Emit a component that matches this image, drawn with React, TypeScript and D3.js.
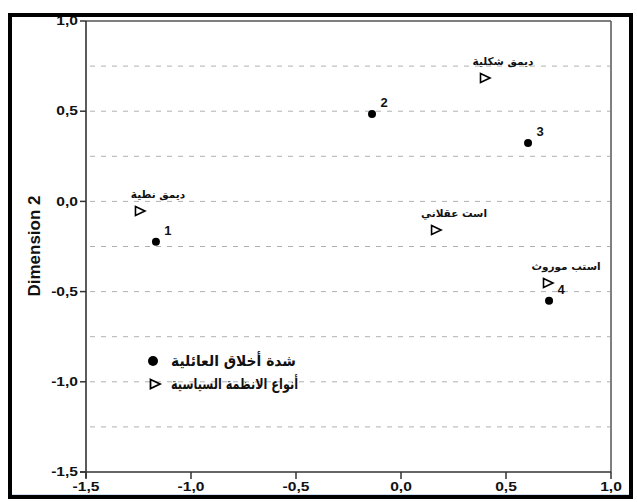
import React from 'react';
import * as d3 from 'd3';

const xTicks = [-1.5, -1.0, -0.5, 0.0, 0.5, 1.0];
const yTicks = [-1.5, -1.0, -0.5, 0.0, 0.5, 1.0];
const gridValues = [0.75, 0.5, 0.25, 0.0, -0.25, -0.5, -0.75, -1.0, -1.25];

const circleLabels = ['1', '2', '3', '4'];
const circleX = [-1.167, -0.138, 0.605, 0.705];
const circleY = [-0.224, 0.485, 0.324, -0.551];

const triangleLabels = ['ديمق نطية', 'ديمق شكلية', 'است عقلاني', 'استب موروث'];
const triangleX = [-1.243, 0.4, 0.167, 0.7];
const triangleY = [-0.053, 0.684, -0.158, -0.452];

const legendLabels = ['شدة أخلاق العائلية', 'أنواع الانظمة السياسية'];
const yTitle = 'Dimension 2';

const fmt = (v: number) => d3.format('.1f')(v).replace('.', ',').replace('−', '-');

export default function App() {
  const x = d3.scaleLinear().domain([-1.5, 1.0]).range([86, 611]);
  const y = d3.scaleLinear().domain([-1.5, 1.0]).range([472, 21]);
  const tri = 'M-4.5,-4.5 L5,0 L-4.5,4.5 Z';
  const axisFont = 'Liberation Sans, Arial, sans-serif';
  const arFont = 'DejaVu Sans, sans-serif';
  return (
    <svg width={637} height={502} style={{ position: 'absolute', left: 0, top: 0, background: '#fff' }}>
      <rect x={0} y={0} width={637} height={502} fill="#fff" />
      {gridValues.map((g, i) => (
        <line key={'g' + i} x1={x(-1.5) + 4} x2={x(1.0) - 1} y1={y(g)} y2={y(g)}
          stroke="#b0b0b0" strokeWidth={1} strokeDasharray="5,6" />
      ))}
      <line x1={x(-1.5)} x2={x(1.0)} y1={y(1.0)} y2={y(1.0)} stroke="#555" strokeWidth={1.5} />
      <line x1={x(1.0)} x2={x(1.0)} y1={y(1.0)} y2={y(-1.5)} stroke="#555" strokeWidth={1.5} />
      <line x1={x(-1.5)} x2={x(-1.5)} y1={y(1.0)} y2={y(-1.5) + 6} stroke="#333" strokeWidth={1.6} />
      <line x1={x(-1.5) - 6} x2={x(1.0)} y1={y(-1.5)} y2={y(-1.5)} stroke="#333" strokeWidth={1.6} />
      {yTicks.map((t, i) => (
        <g key={'yt' + i}>
          <line x1={x(-1.5) - 6} x2={x(-1.5)} y1={y(t)} y2={y(t)} stroke="#333" strokeWidth={1.5} />
          <text transform={`translate(${x(-1.5) - 8},${y(t)}) scale(1.3,1)`} dy="0.35em" textAnchor="end"
            fontFamily={axisFont} fontWeight="bold" fontSize={12} fill="#111">{fmt(t)}</text>
        </g>
      ))}
      {xTicks.map((t, i) => (
        <g key={'xt' + i}>
          <line x1={x(t)} x2={x(t)} y1={y(-1.5)} y2={y(-1.5) + 7} stroke="#333" strokeWidth={1.5} />
          <text transform={`translate(${x(t)},${y(-1.5) + 19}) scale(1.3,1)`} textAnchor="middle"
            fontFamily={axisFont} fontWeight="bold" fontSize={12} fill="#111">{fmt(t)}</text>
        </g>
      ))}
      <text transform={`translate(40,246) rotate(-90)`} textAnchor="middle"
        fontFamily={axisFont} fontSize={17} fontWeight="bold" fill="#111">{yTitle}</text>
      {circleX.map((cx, i) => (
        <g key={'c' + i}>
          <circle cx={x(cx)} cy={y(circleY[i])} r={4} fill="#000" />
          <text x={x(cx) + 12} y={y(circleY[i]) - 7} textAnchor="middle" fontFamily={axisFont}
            fontWeight="bold" fontSize={13} fill="#111">{circleLabels[i]}</text>
        </g>
      ))}
      {triangleX.map((tx, i) => (
        <g key={'t' + i}>
          <path d={tri} transform={`translate(${x(tx)},${y(triangleY[i])})`} fill="#fff" stroke="#000" strokeWidth={1.6} />
          <text x={x(tx) + 18} y={y(triangleY[i]) - 13} textAnchor="middle" fontFamily={arFont}
            fontWeight="bold" fontSize={10.5} fill="#111">{triangleLabels[i]}</text>
        </g>
      ))}
      <circle cx={153} cy={361} r={5} fill="#000" />
      <text x={171} y={366} textAnchor="start" fontFamily={arFont} fontWeight="bold" fontSize={15}
        textLength={125} lengthAdjust="spacingAndGlyphs" fill="#111">{legendLabels[0]}</text>
      <path d={tri} transform="translate(155,384)" fill="#fff" stroke="#000" strokeWidth={1.8} />
      <text x={171} y={389} textAnchor="start" fontFamily={arFont} fontWeight="bold" fontSize={15}
        textLength={127} lengthAdjust="spacingAndGlyphs" fill="#111">{legendLabels[1]}</text>
      <line x1={12} x2={629} y1={495} y2={495} stroke="#9bbbe0" strokeWidth={1} />
      <rect x={10} y={15} width={621} height={482} fill="none" stroke="#000" strokeWidth={4} />
    </svg>
  );
}
